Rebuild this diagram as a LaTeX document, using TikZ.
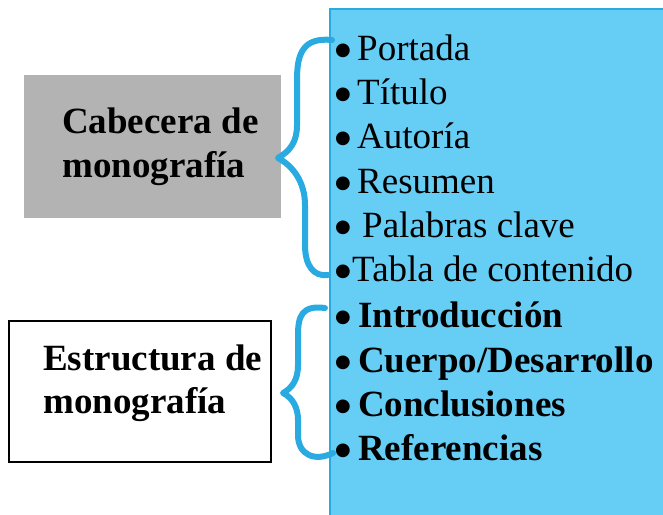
\documentclass[tikz,border=0pt]{standalone}
\usepackage{fontspec}
\setmainfont{Liberation Serif}
\newfontfamily\symfont{DejaVu Sans}
\definecolor{skyfill}{RGB}{102,205,245}
\definecolor{bracec}{RGB}{41,171,226}
\definecolor{grayfill}{RGB}{179,179,179}
\newcommand\mybul[1]{\makebox[#1][l]{\raisebox{4.5pt}{\symfont\fontsize{18}{18}\selectfont ●}}}
\tikzset{
  item/.style={anchor=base west, inner sep=0pt, font=\fontsize{37}{44}\selectfont},
  bitem/.style={item, font=\fontsize{37}{44}\selectfont\bfseries},
  lbl/.style={anchor=base west, inner sep=0pt, font=\fontsize{37}{44}\selectfont\bfseries, align=left},
  bracestyle/.style={draw=bracec, line width=6pt, line cap=round, line join=round},
}
\begin{document}
\begin{tikzpicture}[x=1pt,y=-1pt]
\useasboundingbox (0,0) rectangle (663,514);
% blue list panel
\node[draw=bracec, line width=2pt, fill=skyfill, minimum width=345pt, minimum height=520pt, anchor=north west, inner sep=0pt] (panel) at (329,8) {};
% left boxes
\node[fill=grayfill, minimum width=257pt, minimum height=143pt, inner sep=0pt] (cab) at (152.5,146.5) {};
\node[draw=black, line width=1.8pt, fill=white, minimum width=262pt, minimum height=141pt, inner sep=0pt] (est) at (140,391.5) {};
\node[lbl] (cabt1) at (62,133) {Cabecera de};
\node[lbl] (cabt2) at (62,177) {monografía};
\node[lbl] (estt1) at (43,370) {Estructura de};
\node[lbl] (estt2) at (43,413) {monografía};
% braces
\coordinate (b1a) at (332,40);
\coordinate (b1t) at (278,158);
\coordinate (b1b) at (328,275);
\draw[bracestyle] (b1a) .. controls (302,37) and (297,55) .. (297,80) -- (297,125) .. controls (297,142) and (290,151) .. (b1t) .. controls (293,166) and (305,182) .. (305,205) -- (305,245) .. controls (305,266) and (314,277) .. (b1b);
\coordinate (b2a) at (325,308);
\coordinate (b2t) at (283,393);
\coordinate (b2b) at (333,453);
\draw[bracestyle] (b2a) .. controls (302,305) and (298,316) .. (298,335) -- (298,365) .. controls (298,380) and (292,388) .. (b2t) .. controls (293,398) and (298,408) .. (298,420) -- (298,435) .. controls (298,455) and (315,462) .. (b2b);
% items
\node[item] (i1) at (335,60) {\mybul{22pt}Portada};
\node[item] (i2) at (335,104) {\mybul{22pt}Título};
\node[item] (i3) at (335,148) {\mybul{22pt}Autoría};
\node[item] (i4) at (335,193) {\mybul{22pt}Resumen};
\node[item] (i5) at (335,237) {\mybul{27pt}Palabras clave};
\node[item] (i6) at (335,281) {\mybul{17pt}Tabla de contenido};
\node[bitem] (j1) at (335,327) {\mybul{23pt}Introducción};
\node[bitem] (j2) at (335,372) {\mybul{23pt}Cuerpo/Desarrollo};
\node[bitem] (j3) at (335,416) {\mybul{23pt}Conclusiones};
\node[bitem] (j4) at (335,460) {\mybul{23pt}Referencias};
\end{tikzpicture}
\end{document}
